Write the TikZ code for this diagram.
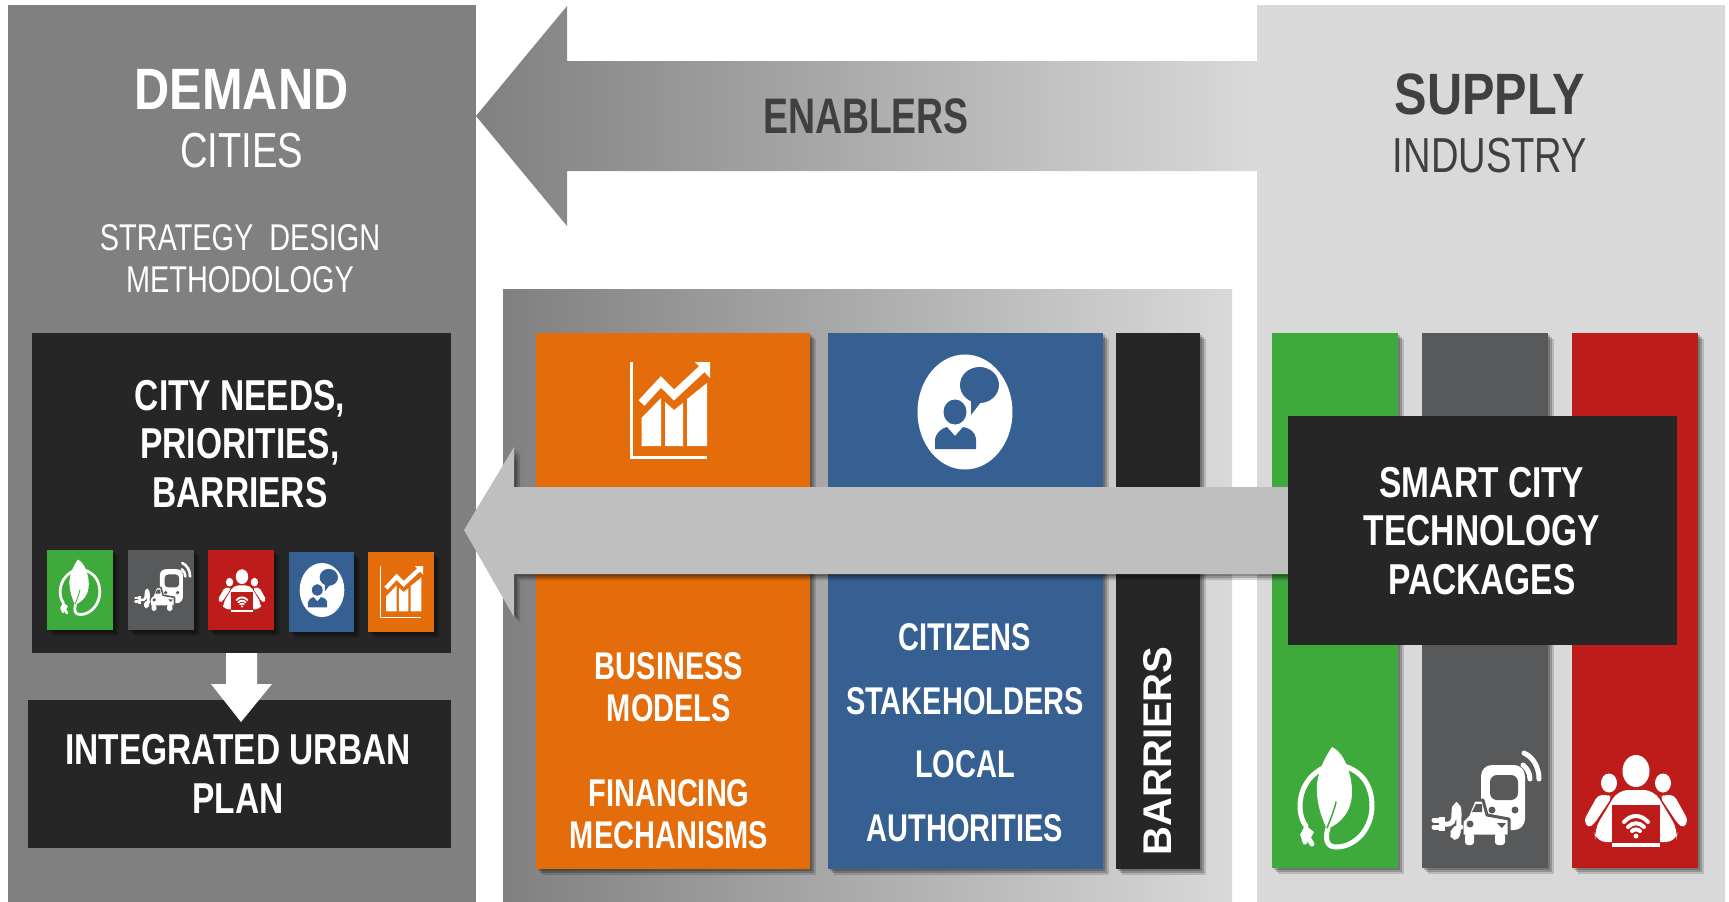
\documentclass[tikz,border=0pt]{standalone}
\usepackage{fontspec}
\usepackage{xcolor}
\usetikzlibrary{shadows}
\setmainfont[FakeStretch=0.775]{Liberation Sans}
\newfontfamily\headfont[FakeStretch=0.835]{Liberation Sans}
\newfontfamily\narrowfont[FakeStretch=0.75]{Liberation Sans}
\newfontfamily\widefont{Liberation Sans}

\definecolor{panelgray}{HTML}{808080}
\definecolor{panellight}{HTML}{D9D9D9}
\definecolor{boxblack}{HTML}{262626}
\definecolor{boxorange}{HTML}{E46C0A}
\definecolor{boxblue}{HTML}{376092}
\definecolor{boxgreen}{HTML}{3DAA3B}
\definecolor{boxgrey}{HTML}{58595B}
\definecolor{boxred}{HTML}{BE1B1B}
\definecolor{arrowgray}{HTML}{BFBFBF}
\definecolor{labelgray}{HTML}{404040}

\tikzset{
	softshadow/.style={
		drop shadow={shadow xshift=0.2mm,shadow yshift=-0.2mm,opacity=.2,fill=black},
		drop shadow={shadow xshift=0.4mm,shadow yshift=-0.4mm,opacity=.2,fill=black},
		drop shadow={shadow xshift=0.6mm,shadow yshift=-0.6mm,opacity=.15,fill=black}},
	bighead/.style={text=white,font=\headfont\bfseries\fontsize{16.6}{19}\selectfont,align=center},
	lighthead/.style={font=\fontsize{14}{17}\selectfont,align=center},
	method/.style={text=white,font=\fontsize{10.6}{12}\selectfont,align=center},
	boxlabel/.style={text=white,font=\bfseries\fontsize{12.3}{13.9}\selectfont,align=center},
	collabel/.style={text=white,font=\narrowfont\bfseries\fontsize{11}{11.9}\selectfont,align=center},
	leaficon/.pic={
		\begin{scope}[scale=#1,line width=#1*0.5mm,line cap=round,white]
			\draw (8,-40) .. controls (28,-34) and (36,-18) .. (36,0) .. controls (36,22) and (20,41) .. (0,41) .. controls (-10,41) and (-11,32) .. (-8,22);
			\draw (-13,-38) .. controls (-28,-30) and (-36,-16) .. (-36,0) .. controls (-36,8) and (-34,15) .. (-30,20);
			\fill (-31,19) -- (-22,26) -- (-27,35) -- (-36,29) -- cycle;
			\draw (-27,33) -- (-24,38);
			\draw (-33,29) -- (-31,36);
			\fill (-4,-59) .. controls (8,-54) and (16,-32) .. (16,-14) .. controls (16,6) and (4,18) .. (-9,23) .. controls (-18,5) and (-20,-12) .. (-19,-22) .. controls (-17,-38) and (-10,-50) .. (-4,-59) -- cycle;
			\draw[boxgreen,line width=#1*0.15mm] (-9,22) .. controls (-5,12) and (-2,5) .. (0,-4);
		\end{scope}
	},
	caricon/.pic={
		\begin{scope}[scale=#1,line width=#1*0.5mm,line cap=round,white]
			\fill[rounded corners=#1*1.1mm] (-4,-38) rectangle (40,27);
			\fill[boxgrey,rounded corners=#1*0.7mm] (5,-28) rectangle (33,-3);
			\fill[boxgrey] (7,7) circle [radius=3.5];
			\fill[boxgrey] (30,7) circle [radius=3.5];
			\draw[boxgrey,line width=#1*0.3mm,fill=white,line join=round] (-23,33) -- (-23,18) -- (-17,12) -- (-11,-3) -- (-2,-3) -- (2,12) -- (24,16) -- (24,33) -- cycle;
			\fill[boxgrey] (-13,9) -- (-9,1) -- (-3,1) -- (-3,9) -- cycle;
			\fill[boxgrey] (-15,21) circle [radius=3.5];
			\fill[boxgrey] (12,20) -- (21,20) -- (17,25) -- cycle;
			\fill[rounded corners=#1*0.3mm] (-20,30) rectangle (-11,42);
			\fill[rounded corners=#1*0.3mm] (10,30) rectangle (20,42);
			\draw (-41,21) .. controls (-32,22) and (-31,18) .. (-31,10) .. controls (-31,0) and (-26,0) .. (-26,10) .. controls (-26,22) and (-26,34) .. (-30,34) .. controls (-34,34) and (-33,24) .. (-24,24);
			\fill (-46,14) rectangle (-40,28);
			\draw (-51,17) -- (-46,17);
			\draw (-51,24) -- (-46,24);
			\draw (39,-50) .. controls (48,-46) and (54,-36) .. (54,-24);
			\draw (38,-38) .. controls (42,-35) and (45,-30) .. (45,-24);
		\end{scope}
	},
	peopleicon/.pic={
		\begin{scope}[scale=#1,line width=#1*0.4mm,line cap=round,white]
			\fill (0,-29) ellipse [x radius=13.5,y radius=16];
			\fill (-27,-17) ellipse [x radius=8,y radius=9.5];
			\fill (27,-17) ellipse [x radius=8,y radius=9.5];
			\fill[rounded corners=#1*0.4mm] (-28,-5) -- (-38,-5) -- (-52,20) -- (-48,28) -- (-42,24) -- (-24,-3) -- cycle;
			\fill[rounded corners=#1*0.4mm] (28,-5) -- (38,-5) -- (52,20) -- (48,28) -- (42,24) -- (24,-3) -- cycle;
			\fill[rounded corners=#1*1mm] (-18,-10) -- (18,-10) -- (42,30) -- (40,42) -- (-40,42) -- (-42,30) -- cycle;
			\fill[boxred] (-24,5) rectangle (24,43);
			\fill (-24,43) rectangle (24,47);
			\draw (-12,22) .. controls (-5,14) and (5,14) .. (12,22);
			\draw (-8,27) .. controls (-3,22) and (3,22) .. (8,27);
			\draw (-4,31) .. controls (-2,29) and (2,29) .. (4,31);
			\fill (0,36) circle [radius=2.5];
		\end{scope}
	},
	talkicon/.pic={
		\begin{scope}[scale=#1]
			\fill[white] (0,0) ellipse [x radius=47.5,y radius=57.5];
			\fill[boxblue] (14.5,-27) ellipse [x radius=19.5,y radius=18];
			\fill[boxblue] (6,-14) -- (6,3) -- (16,-10) -- cycle;
			\fill[boxblue] (-10,0) ellipse [x radius=11.5,y radius=12.5];
			\fill[boxblue] (-30,37) -- (-30,27) .. controls (-28,19) and (-22,16) .. (-18,15) -- (-10,24) -- (-2,15) .. controls (4,16) and (10,19) .. (11,27) -- (11,37) -- cycle;
		\end{scope}
	},
	charticon/.pic={
		\begin{scope}[scale=#1,white]
			\fill (-41,-48) rectangle (-38,49);
			\fill (-41,45.5) rectangle (36,49);
			\fill (-29.5,36) -- (-29.5,8) -- (-10,-12) -- (-10,36) -- cycle;
			\fill (-6,36) -- (-6,-8) -- (3,0) -- (12,-7) -- (12,36) -- cycle;
			\fill (16,36) -- (16,-11) -- (36,-27) -- (36,36) -- cycle;
			\draw[line width=#1*0.8mm] (-29.5,-7) -- (-10,-28) -- (3,-15) -- (32,-42);
			\fill (24,-48) -- (39,-48) -- (39,-32) -- cycle;
		\end{scope}
	}
}

\begin{document}
\begin{tikzpicture}[x=0.1mm,y=-0.1mm]
	\useasboundingbox (0,0) rectangle (1729,902);

	% the two side panels and the middle one
	\fill [panelgray] (8,5) rectangle (476,902);
	\fill [panellight] (1257,5) rectangle (1725,902);
	\shade [left color=panelgray,right color=panellight] (503,289) rectangle (1232,902);

	% enablers arrow
	\shade [left color=panelgray,right color=panellight] (476,116) -- (567,6) -- (567,61) -- (1257,61) -- (1257,171) -- (567,171) -- (567,226) -- cycle;
	\node (enablers) [text=labelgray,font=\narrowfont\bfseries\fontsize{14.2}{17}\selectfont] at (866,116) {ENABLERS};

	\node (demand) [bighead] at (241.5,89) {DEMAND};
	\node (cities) [lighthead,text=white] at (241.5,151) {CITIES};
	\node (strategy) [method] at (240,259) {STRATEGY\ \ DESIGN\\METHODOLOGY};
	\node (supply) [bighead,text=labelgray] at (1490,94) {SUPPLY};
	\node (industry) [lighthead,text=labelgray] at (1490,155.5) {INDUSTRY};

	% left column
	\fill [boxblack] (32,333) rectangle (451,653);
	\fill [boxblack] (28,700) rectangle (451,848);
	\fill [white] (226,653) -- (257,653) -- (257,684) -- (272,684) -- (241,722) -- (211,684) -- (226,684) -- cycle;
	\node (needs) [boxlabel] at (240,444) {CITY NEEDS,\\PRIORITIES,\\BARRIERS};
	\node (plan) [boxlabel] at (238,774) {INTEGRATED URBAN\\PLAN};

	% small icons
	\fill [boxgreen,softshadow] (46.7,550) rectangle (112.7,630);
	\fill [boxgrey,softshadow] (128,550) rectangle (194,630);
	\fill [boxred,softshadow] (208,550) rectangle (274,630);
	\fill [boxblue,softshadow] (289,552) rectangle (354,632);
	\fill [boxorange,softshadow] (368,552) rectangle (434,632);
	\pic at (80,592) {leaficon=0.55};
	\pic at (162,589) {caricon=0.52};
	\pic at (242,590) {peopleicon=0.46};
	\pic at (322,590) {talkicon=0.47};
	\pic at (402,592) {charticon=0.54};

	% middle columns
	\fill [boxorange,softshadow] (536,333) rectangle (810,869);
	\fill [boxblue,softshadow] (828,333) rectangle (1103,869);
	\fill [boxblack,softshadow] (1116,333) rectangle (1200,869);
	\pic at (671,410) {charticon=1};
	\pic at (965,412) {talkicon=1};
	\node (business) [collabel] at (669,687) {BUSINESS\\MODELS};
	\node (financing) [collabel] at (669,814) {FINANCING\\MECHANISMS};
	\node (citizens) [collabel,font=\narrowfont\bfseries\fontsize{11}{18.1}\selectfont] at (965,732.5) {CITIZENS\\STAKEHOLDERS\\LOCAL\\AUTHORITIES};
	\node (barriers) [text=white,rotate=90,font=\widefont\bfseries\fontsize{11.4}{14}\selectfont] at (1158,751) {BARRIERS};

	% right columns
	\fill [boxgreen,softshadow] (1272,333) rectangle (1398,868);
	\fill [boxgrey,softshadow] (1422,333) rectangle (1548,868);
	\fill [boxred,softshadow] (1572,333) rectangle (1698,868);
	\pic at (1336,806) {leaficon=1};
	\pic at (1485,803) {caricon=1};
	\pic at (1636,800) {peopleicon=1};

	% arrow across the columns
	\fill [arrowgray,softshadow] (464,530) -- (514,447) -- (514,487) -- (1290,487) -- (1290,574) -- (514,574) -- (514,617) -- cycle;
	\fill [boxblack] (1288,416) rectangle (1677,645);
	\node (packages) [boxlabel] at (1482,531) {SMART CITY\\TECHNOLOGY\\PACKAGES};
\end{tikzpicture}
\end{document}
